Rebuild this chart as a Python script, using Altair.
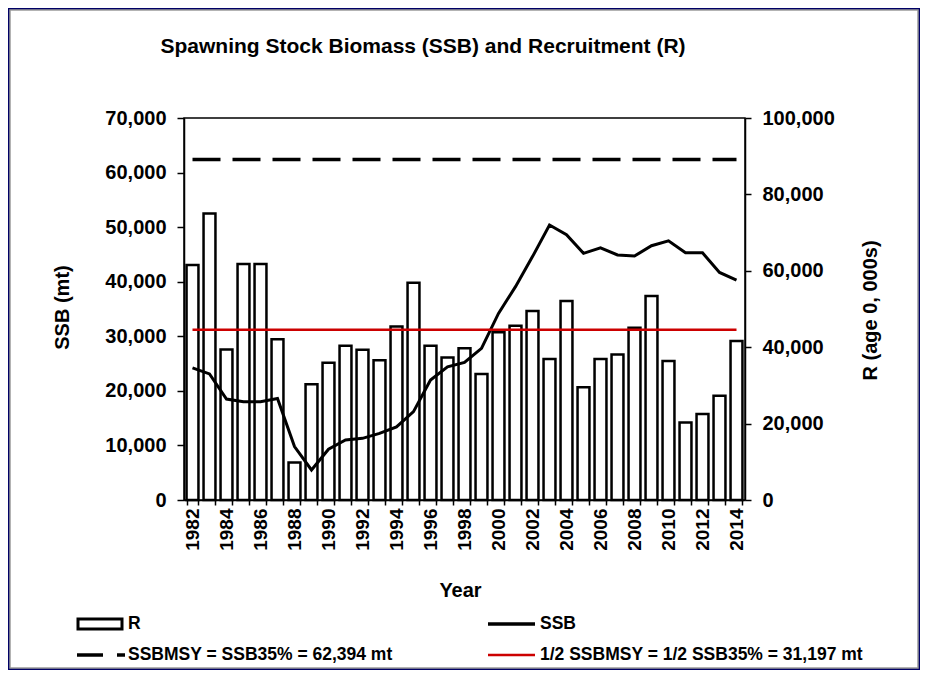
import altair as alt
import pandas as pd

# ---------------- data ----------------
years = list(range(1982, 2015))
recruitment = [61500, 75000, 39400, 61800, 61800, 42100, 9800, 30300, 35900, 40400,
               39300, 36600, 45400, 56900, 40400, 37300, 39700, 33000, 43900, 45600,
               49500, 36900, 52100, 29500, 36900, 38100, 45100, 53400, 36400, 20300,
               22500, 27300, 41600]
ssb = [24200, 23100, 18500, 18000, 18000, 18600, 9800, 5500, 9300, 11000,
       11300, 12200, 13400, 16200, 22000, 24400, 25200, 27800, 34200, 39100,
       44600, 50400, 48600, 45200, 46200, 44900, 44700, 46600, 47500, 45300,
       45300, 41700, 40300]
ssb_msy = 62394
half_ssb_msy = 31197
left_ticks = [0, 10000, 20000, 30000, 40000, 50000, 60000, 70000]
right_ticks = [0, 20000, 40000, 60000, 80000, 100000]

title_text = "Spawning Stock Biomass (SSB) and Recruitment (R)"
legend_r = "R"
legend_ssb = "SSB"
legend_msy = "SSBMSY = SSB35% = 62,394 mt"
legend_half = "1/2 SSBMSY = 1/2 SSB35%  = 31,197 mt"

df = pd.DataFrame({"Year": years, "R": recruitment, "SSB": ssb})
ref = pd.DataFrame({"Year": years,
                    "msy": [ssb_msy] * len(years),
                    "half": [half_ssb_msy] * len(years)})
one = pd.DataFrame({"k": [0]})

FONT = "Liberation Sans"
W, H = 561, 382

xenc = alt.X(
    "Year:O",
    scale=alt.Scale(paddingInner=0.3, paddingOuter=0.15),
    axis=alt.Axis(
        title="Year", labelAngle=270, labelOverlap=False,
        labelExpr="datum.value % 2 == 0 ? datum.label : ''",
        tickBand="extent", tickSize=5, labelPadding=3, zindex=2,
        labelFont=FONT, labelFontSize=19, labelFontWeight="bold", labelColor="black",
        titleFont=FONT, titleFontSize=20, titleFontWeight="bold", titleColor="black",
        titleX=276, titleY=90, titleBaseline="middle",
        domainColor="black", domainWidth=1.5, tickColor="black", tickWidth=1.5,
    ),
)

# decorations: white panel over navy background
panel = alt.Chart(one).mark_rect(fill="white", stroke="#9a9a9a", strokeWidth=1.5).encode(
    x=alt.value(-174), x2=alt.value(734), y=alt.value(-108), y2=alt.value(550)
)
frame = alt.Chart(one).mark_rect(fill="transparent", stroke="black", strokeWidth=1.5).encode(
    x=alt.value(0), x2=alt.value(W), y=alt.value(0), y2=alt.value(H)
)

bars = alt.Chart(df).mark_bar(fill="white", stroke="black", strokeWidth=2.5).encode(
    x=xenc,
    y=alt.Y("R:Q", scale=alt.Scale(domain=[0, 100000], nice=False),
            axis=alt.Axis(
                orient="right", values=right_ticks, format=",d", grid=False,
                tickSize=6, labelPadding=11, zindex=2,
                labelFont=FONT, labelFontSize=20, labelFontWeight="bold", labelColor="black",
                title="R (age 0, 000s)", titleFont=FONT, titleFontSize=20,
                titleFontWeight="bold", titleColor="black",
                titleAngle=270, titleX=125, titleY=192, titleAlign="center",
                titleBaseline="middle",
                domainColor="black", domainWidth=1.5, tickColor="black", tickWidth=1.5,
            )),
)

yscale_left = alt.Scale(domain=[0, 70000], nice=False)
left_axis = alt.Axis(
    orient="left", values=left_ticks, format=",d", grid=False,
    tickSize=7, labelPadding=11, zindex=2,
    labelFont=FONT, labelFontSize=20, labelFontWeight="bold", labelColor="black",
    title="SSB (mt)", titleFont=FONT, titleFontSize=20,
    titleFontWeight="bold", titleColor="black",
    titleAngle=270, titleX=-122, titleY=189, titleAlign="center",
    titleBaseline="middle",
    domainColor="black", domainWidth=1.5, tickColor="black", tickWidth=1.5,
)

ssb_line = alt.Chart(df).mark_line(color="black", strokeWidth=3).encode(
    x=xenc, y=alt.Y("SSB:Q", scale=yscale_left, axis=left_axis)
)
msy_line = alt.Chart(ref).mark_line(color="black", strokeWidth=3.5, strokeDash=[28, 12]).encode(
    x=xenc, y=alt.Y("msy:Q", scale=yscale_left, axis=left_axis)
)
half_line = alt.Chart(ref).mark_line(color="#cc0000", strokeWidth=2.5).encode(
    x=xenc, y=alt.Y("half:Q", scale=yscale_left, axis=left_axis)
)

left_layer = alt.layer(ssb_line, msy_line, half_line)

# title
title = alt.Chart(one).mark_text(
    text=title_text, font=FONT, fontSize=21, fontWeight="bold", color="black",
    align="center", baseline="middle"
).encode(x=alt.value(239), y=alt.value(-71))

# manual legend
def txt(s, x, y):
    return alt.Chart(one).mark_text(
        text=s, font=FONT, fontSize=17.5, fontWeight="bold", color="black",
        align="left", baseline="middle"
    ).encode(x=alt.value(x), y=alt.value(y))

leg_rect = alt.Chart(one).mark_rect(fill="white", stroke="black", strokeWidth=3).encode(
    x=alt.value(-106), x2=alt.value(-62), y=alt.value(501), y2=alt.value(511)
)
leg_dash1 = alt.Chart(one).mark_rule(color="black", strokeWidth=3.5).encode(
    x=alt.value(-107), x2=alt.value(-81), y=alt.value(537)
)
leg_dash2 = alt.Chart(one).mark_rule(color="black", strokeWidth=3.5).encode(
    x=alt.value(-67), x2=alt.value(-59), y=alt.value(537)
)
leg_ssb = alt.Chart(one).mark_rule(color="black", strokeWidth=3.5).encode(
    x=alt.value(304), x2=alt.value(351), y=alt.value(506)
)
leg_red = alt.Chart(one).mark_rule(color="#cc0000", strokeWidth=2.5).encode(
    x=alt.value(304), x2=alt.value(351), y=alt.value(537)
)

chart = alt.layer(
    panel, bars, left_layer, frame, title,
    leg_rect, txt(legend_r, -56, 506),
    leg_dash1, leg_dash2, txt(legend_msy, -56, 537),
    leg_ssb, txt(legend_ssb, 356, 506),
    leg_red, txt(legend_half, 356, 537),
).resolve_scale(y="independent").properties(
    width=W, height=H,
    autosize=alt.AutoSizeParams(type="none"),
    padding={"left": 176, "top": 110, "right": 175, "bottom": 170},
    background="#000066",
).configure_view(stroke="black", strokeWidth=1.5)

chart.save("out.html", embed_options={"renderer": "svg", "actions": False})
